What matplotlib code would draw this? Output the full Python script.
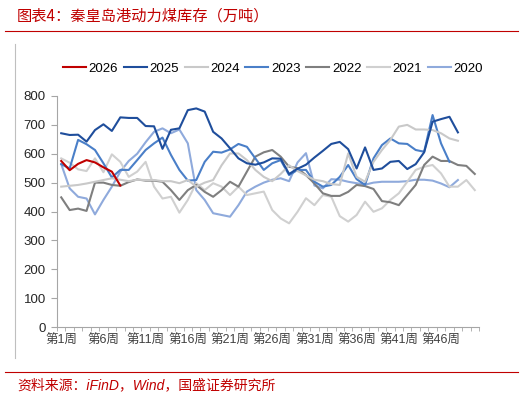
import matplotlib
matplotlib.use("Agg")
import matplotlib.pyplot as plt
from matplotlib.ticker import MultipleLocator, FixedLocator

plt.rcParams['font.family'] = ['Liberation Sans', 'Noto Sans CJK SC']

# week labels (50 categories, label every 5 weeks)
weeks = list(range(1, 51))
tick_weeks = list(range(1, 50, 5))
tick_labels = ['第%d周' % w for w in tick_weeks]

y2026 = [575, 543, 565, 578, 570, 553, 538, 490]
y2025 = [671, 665, 666, 642, 682, 702, 679, 726, 724, 724, 696, 695, 617, 683, 688,
         751, 757, 746, 676, 653, 619, 584, 567, 562, 570,
         584, 583, 530, 548, 562, 587, 610, 634, 641, 616, 549, 622, 544, 549, 572,
         575, 547, 564, 605, 711, 720, 728, 674]
y2024 = [486, 489, 492, 497, 503, 509, 515, 510, 505, 510, 509, 509, 505, 505, 498,
         509, 486, 500, 509, 560, 601, 601, 578, 544, 520, 505, 530, 560, 540, 525,
         510, 505, 495, 492, 601, 520, 503, 572, 613, 648, 694, 700, 684, 684, 682,
         671, 653, 645]
y2023 = [564, 549, 648, 633, 613, 567, 518, 544, 544, 578, 613, 636, 656,
         596, 544, 507, 509, 572, 607, 604, 615, 634, 624, 584,
         544, 567, 578, 526, 544, 544, 503, 486, 492, 520, 561, 512, 492,
         584, 630, 653, 636, 634, 613, 607, 734, 636, 572]
y2022 = [449, 405, 410, 402, 500, 500, 492, 489, 502, 511, 507, 507, 503, 474, 440,
         474, 492, 468, 451, 474, 503, 486, 538, 590, 605, 613, 590, 555, 550, 526,
         497, 463, 454, 454, 468, 492, 488, 478, 436, 432, 422, 457, 492, 561, 590,
         575, 575, 561, 558, 530]
y2021 = [584, 569, 546, 540, 584, 536, 598, 572, 520, 538, 572, 486, 445, 451, 396,
         440, 498, 474, 498, 486, 457, 486, 457, 463, 469, 405, 376, 359, 399, 446,
         422, 457, 451, 384, 365, 388, 434, 399, 411, 440, 463, 503, 544, 555, 561,
         532, 486, 486, 509, 474]
y2020 = [564, 480, 451, 445, 390, 440, 486, 538, 575, 600, 640, 676, 688, 671, 684,
         636, 474, 440, 394, 388, 382, 422, 469, 486, 500, 510, 515, 505, 570, 602,
         490, 480, 512, 510, 503, 498, 493, 500, 503, 503, 503, 505, 510, 510, 507,
         497, 484, 509]

series = [
    ('2026', y2026, '#C00000'),
    ('2025', y2025, '#1F4E9C'),
    ('2024', y2024, '#C9C9C9'),
    ('2023', y2023, '#4A7FC8'),
    ('2022', y2022, '#7F7F7F'),
    ('2021', y2021, '#D0D0D0'),
    ('2020', y2020, '#8FAADC'),
]

W, H = 525, 397
fig = plt.figure(figsize=(W / 100, H / 100), dpi=100)

# title, rules, frame
red = '#C00000'
fig.text(17 / W, 1 - 16 / H, '图表4：秦皇岛港动力煤库存（万吨）', color=red, fontsize=11,
         style='italic', va='center', ha='left', family=['Noto Sans CJK SC'])
fig.add_artist(plt.Line2D([5 / W, 518 / W], [1 - 31 / H, 1 - 31 / H], color=red, lw=0.8))
fig.add_artist(plt.Line2D([5 / W, 518 / W], [1 - 372 / H, 1 - 372 / H], color=red, lw=0.8))
fig.add_artist(plt.Line2D([15 / W, 15 / W], [1 - 44 / H, 1 - 358 / H], color='#BFBFBF', lw=0.8))
fig.text(17 / W, 1 - 385 / H, '资料来源：iFinD，Wind，国盛证券研究所', color=red, fontsize=10,
         style='italic', va='center', ha='left')

ax = fig.add_axes([57 / W, 1 - 327 / H, (479 - 57) / W, (327 - 96) / H])
n = len(series)
for i, (name, vals, col) in enumerate(series):
    ax.plot(weeks[:len(vals)], vals, color=col, lw=1.5, label=name,
            zorder=10 if name == '2026' else n - i)

ax.set_xlim(0.5, 50.5)
ax.set_ylim(0, 800)
ax.yaxis.set_major_locator(MultipleLocator(100))
ax.xaxis.set_major_locator(FixedLocator(tick_weeks))
ax.set_xticklabels(tick_labels)
ax.xaxis.set_minor_locator(FixedLocator([w + 0.5 for w in range(0, 51)]))
ax.tick_params(axis='x', which='major', length=0, pad=6, labelsize=9, colors='#404040')
ax.tick_params(axis='x', which='minor', length=3, color='#A6A6A6', direction='out')
ax.tick_params(axis='y', length=4, color='#A6A6A6', labelsize=9.5, labelcolor='#262626', pad=4)
for s in ['top', 'right']:
    ax.spines[s].set_visible(False)
for s in ['left', 'bottom']:
    ax.spines[s].set_color('#A6A6A6')
    ax.spines[s].set_linewidth(0.8)

fig.legend(loc='center', bbox_to_anchor=(273 / W, 1 - 69 / H), ncol=7, frameon=False,
           fontsize=9.5, handlelength=1.75, handletextpad=0.2, columnspacing=0.42)

fig.savefig('out.png', dpi=100)
